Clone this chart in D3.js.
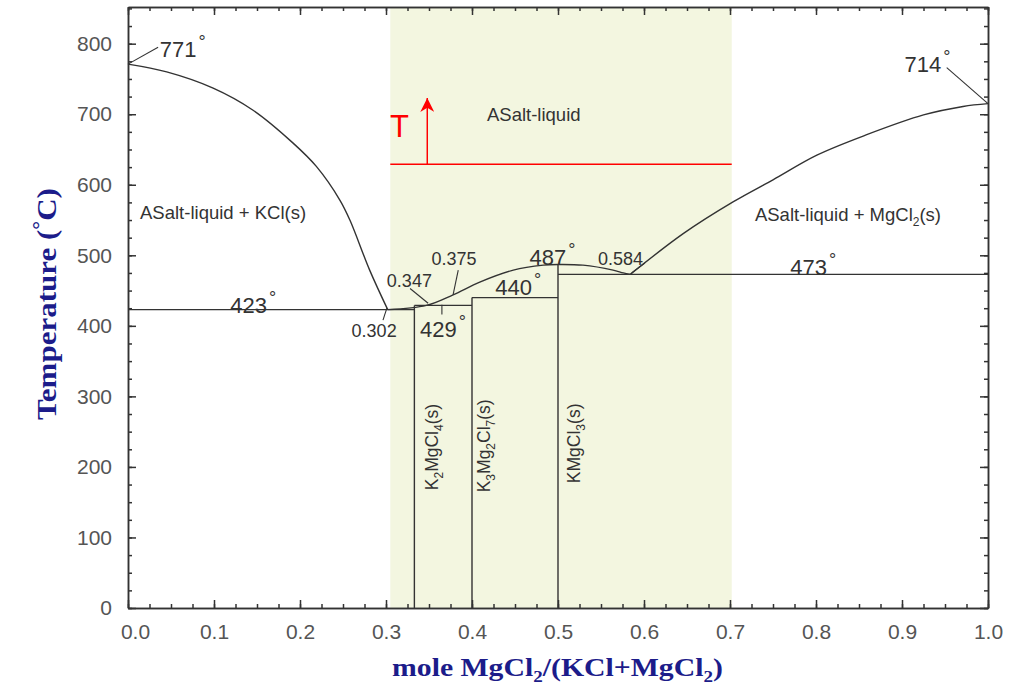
<!doctype html>
<html>
  <head>
    <script src="https://cdnjs.cloudflare.com/ajax/libs/d3/7.8.5/d3.min.js"></script>
  <style>
    body { margin: 0; background: #fff; }
    .tick text { font-family: "Liberation Sans", Arial, sans-serif; font-size: 21px; fill: #555; }
    .tick line, .domain { stroke: #333; stroke-width: 1.5; }
    .ann { font-family: "Liberation Sans", Arial, sans-serif; fill: #333; }
  </style>
  </head>
  <body>
    <svg id="chart" width="1019" height="686"></svg>
    <script>
      // axis ticks
      var xTicks = [0, 0.1, 0.2, 0.3, 0.4, 0.5, 0.6, 0.7, 0.8, 0.9, 1.0];
      var xMinor = d3.range(0, 41).map(i => i / 40);
      var yTicks = [0, 100, 200, 300, 400, 500, 600, 700, 800];
      var yMinor = d3.range(0, 35).map(i => i * 25);

      // liquidus curves (mole fraction MgCl2, temperature C)
      var leftLiquidus = [[0, 771], [0.045, 760], [0.099, 737], [0.145, 706], [0.192, 659], [0.219, 626],
        [0.2465, 578], [0.258, 550], [0.281, 479], [0.302, 423]];
      var midLiquidus = [[0.302, 423], [0.347, 429], [0.378, 444], [0.409, 462], [0.448, 479], [0.483, 486],
        [0.5, 487], [0.529, 486], [0.564, 479], [0.576, 475], [0.584, 473]];
      var rightLiquidus = [[0.584, 473], [0.646, 531], [0.704, 576], [0.75, 607], [0.801, 642], [0.859, 671],
        [0.925, 699], [0.971, 711], [1.0, 715]];

      // invariant lines and compounds
      var isotherms = [[0, 0.333, 423], [0.333, 0.4, 429], [0.4, 0.5, 440], [0.5, 1.0, 473]];
      var compounds = [[0.333, 429], [0.4, 440], [0.5, 487]];

      // temperature labels [text, x, T]
      var degLabels = [["771", 0.037, 781], ["714", 0.903, 760], ["423", 0.119, 418], ["473", 0.77, 472],
        ["487", 0.467, 486], ["440", 0.427, 444], ["429", 0.3395, 384]];
      var compLabels = [["0.302", 0.26, 384], ["0.347", 0.301, 455], ["0.375", 0.353, 486], ["0.584", 0.5465, 486]];
      var leaders = [[[0, 771], [0.035, 795]], [[1.0, 715], [0.952, 766]], [[0.301, 425], [0.2965, 408]],
        [[0.349, 432], [0.328, 453]], [[0.378, 444], [0.384, 479]], [[0.5857, 475], [0.601, 489]],
        [[0.365, 430], [0.365, 416]]];

      var shadeRange = [0.305, 0.702];
      var redT = 629, arrowX = 0.348, arrowTop = 723;

      var svg = d3.select("#chart");
      var xScale = d3.scaleLinear().domain([0, 1]).range([128, 988]);
      var yScale = d3.scaleLinear().domain([0, 852]).range([608, 7]);

      // shaded window
      svg.append("rect")
        .attr("x", xScale(shadeRange[0]))
        .attr("y", yScale(852))
        .attr("width", xScale(shadeRange[1]) - xScale(shadeRange[0]))
        .attr("height", yScale(0) - yScale(852))
        .attr("fill", "#f3f6e0");

      // axes (ticks point inward on all four sides)
      function addAxis(axis, tr, labels) {
        var g = svg.append("g").attr("transform", tr).call(axis);
        if (!labels) g.selectAll("text").remove();
        return g;
      }
      var fmtX = d3.format(".1f");
      addAxis(d3.axisBottom(xScale).tickValues(xMinor).tickSize(-4).tickSizeOuter(0), "translate(0,608)", false);
      var xg = addAxis(d3.axisBottom(xScale).tickValues(xTicks).tickSize(-8).tickSizeOuter(0).tickPadding(16).tickFormat(fmtX), "translate(0,608)", true);
      xg.select(".tick text").attr("dx", 7);
      addAxis(d3.axisTop(xScale).tickValues(xMinor).tickSize(-4).tickSizeOuter(0), "translate(0,7)", false);
      addAxis(d3.axisTop(xScale).tickValues(xTicks).tickSize(-8).tickSizeOuter(0), "translate(0,7)", false);
      addAxis(d3.axisLeft(yScale).tickValues(yMinor).tickSize(-4).tickSizeOuter(0), "translate(128,0)", false);
      addAxis(d3.axisLeft(yScale).tickValues(yTicks).tickSize(-8).tickSizeOuter(0).tickPadding(16), "translate(128,0)", true);
      addAxis(d3.axisRight(yScale).tickValues(yMinor).tickSize(-4).tickSizeOuter(0), "translate(988,0)", false);
      addAxis(d3.axisRight(yScale).tickValues(yTicks).tickSize(-8).tickSizeOuter(0), "translate(988,0)", false);

      var line = d3.line()
        .x(d => xScale(d[0]))
        .y(d => yScale(d[1]));
      var curve = d3.line()
        .x(d => xScale(d[0]))
        .y(d => yScale(d[1]))
        .curve(d3.curveCatmullRom.alpha(0.5));

      [leftLiquidus, midLiquidus, rightLiquidus].forEach(function(c) {
        svg.append("path")
          .attr("d", curve(c))
          .attr("fill", "none")
          .attr("stroke", "#333")
          .attr("stroke-width", 1.4);
      });

      svg.selectAll("line.iso")
        .data(isotherms)
        .enter()
        .append("line")
          .attr("class", "iso")
          .attr("x1", d => xScale(d[0]))
          .attr("x2", d => xScale(d[1]))
          .attr("y1", d => yScale(d[2]))
          .attr("y2", d => yScale(d[2]))
          .attr("stroke", "#333")
          .attr("stroke-width", 1.4);

      svg.selectAll("line.comp")
        .data(compounds)
        .enter()
        .append("line")
          .attr("class", "comp")
          .attr("x1", d => xScale(d[0]))
          .attr("x2", d => xScale(d[0]))
          .attr("y1", d => yScale(0))
          .attr("y2", d => yScale(d[1]))
          .attr("stroke", "#333")
          .attr("stroke-width", 1.4);

      leaders.forEach(function(l) {
        svg.append("path")
          .attr("d", line(l))
          .attr("stroke", "#333")
          .attr("stroke-width", 1.1);
      });

      // temperature labels with degree sign
      degLabels.forEach(function(d) {
        var t = svg.append("text")
          .attr("class", "ann")
          .attr("x", xScale(d[1]))
          .attr("y", yScale(d[2]))
          .style("font-size", "22px")
          .text(d[0]);
        t.append("tspan").attr("dx", 2).attr("dy", "-0.5em").style("font-size", "18px").text("°");
      });

      compLabels.forEach(function(d) {
        svg.append("text")
          .attr("class", "ann")
          .attr("x", xScale(d[1]))
          .attr("y", yScale(d[2]))
          .style("font-size", "18px")
          .text(d[0]);
      });

      // phase region labels
      function phaseLabel(x, t, parts, rotate) {
        var tx = svg.append("text")
          .attr("class", "ann")
          .style("font-size", rotate ? "17.5px" : "18.5px");
        if (rotate) {
          tx.attr("transform", "translate(" + xScale(x) + "," + yScale(t) + ") rotate(-90)");
        } else {
          tx.attr("x", xScale(x)).attr("y", yScale(t));
        }
        parts.forEach(function(p) {
          var s = tx.append("tspan").text(p[0]);
          if (p[1]) s.style("font-size", "12px").attr("dy", 5);
          else if (p[2]) s.attr("dy", -5);
        });
      }
      phaseLabel(0.4174, 691, [["ASalt-liquid"]], false);
      phaseLabel(0.014, 552, [["ASalt-liquid + KCl(s)"]], false);
      phaseLabel(0.729, 549, [["ASalt-liquid + MgCl"], ["2", 1], ["(s)", 0, 1]], false);
      phaseLabel(0.360, 167, [["K"], ["2", 1], ["MgCl", 0, 1], ["4", 1], ["(s)", 0, 1]], true);
      phaseLabel(0.421, 164, [["K"], ["3", 1], ["Mg", 0, 1], ["2", 1], ["Cl", 0, 1], ["7", 1], ["(s)", 0, 1]], true);
      phaseLabel(0.525, 177, [["KMgCl"], ["3", 1], ["(s)", 0, 1]], true);

      // red temperature line and arrow
      svg.append("defs").append("marker")
        .attr("id", "arrow")
        .attr("viewBox", "0 0 10 10")
        .attr("refX", 10).attr("refY", 5)
        .attr("markerWidth", 14).attr("markerHeight", 14)
        .attr("markerUnits", "userSpaceOnUse")
        .attr("orient", "auto")
        .append("path")
          .attr("d", "M0,0 L10,5 L0,10 L3,5 Z")
          .attr("fill", "red");
      svg.append("path")
        .attr("d", line([[shadeRange[0], redT], [shadeRange[1], redT]]))
        .attr("stroke", "red")
        .attr("stroke-width", 1.5);
      svg.append("path")
        .attr("d", line([[arrowX, redT], [arrowX, arrowTop]]))
        .attr("stroke", "red")
        .attr("stroke-width", 1.5)
        .attr("marker-end", "url(#arrow)");
      svg.append("text")
        .attr("x", xScale(0.3157))
        .attr("y", yScale(668))
        .attr("text-anchor", "middle")
        .style("font-family", "Liberation Sans, Arial, sans-serif")
        .style("font-size", "31px")
        .attr("fill", "red")
        .text("T");

      // axis titles
      var titleStyle = t => t.style("font-family", "Liberation Serif, Times New Roman, serif")
        .style("font-weight", "bold").attr("fill", "#1c1c8a");

      var xt = svg.append("text").call(titleStyle).style("font-size", "25px");
      xt.append("tspan").text("mole MgCl");
      xt.append("tspan").text("2").style("font-size", "16px").attr("dy", 6);
      xt.append("tspan").text("/(KCl+MgCl").attr("dy", -6);
      xt.append("tspan").text("2").style("font-size", "16px").attr("dy", 6);
      xt.append("tspan").text(")").attr("dy", -6);
      var xw = xt.node().getComputedTextLength();
      var xs = 331 / xw;
      xt.attr("transform", "translate(" + (557.5 - 331 / 2) + ",676) scale(" + xs + ",1)");

      var yt = svg.append("text").call(titleStyle).style("font-size", "28px");
      yt.append("tspan").text("Temperature (");
      yt.append("tspan").text("°").style("font-size", "20px").attr("dy", -9);
      yt.append("tspan").text("C)").attr("dy", 9);
      var yw = yt.node().getComputedTextLength();
      var ys = 232 / yw;
      yt.attr("transform", "translate(56," + (304 + 116) + ") rotate(-90) scale(" + ys + ",1)");
    </script>
  </body>
</html>
